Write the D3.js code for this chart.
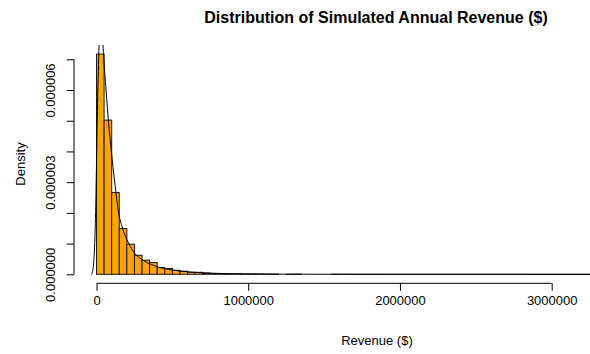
<!DOCTYPE html>
<html lang="en">
<head>
  <meta charset="UTF-8">
  <title>Distribution of Simulated Annual Revenue</title>
  <script src="https://d3js.org/d3.v7.min.js"></script>
  <style>
    body { margin: 0; padding: 0; background: #fff; }
    svg { display: block; font-family: "Liberation Sans", Arial, sans-serif; }
  </style>
</head>
<body>
<svg id="chart" width="590" height="354"></svg>
<script>
// histogram bins (left edge, $) and their density
const binWidth = 50000;
const binLefts = [0, 50000, 100000, 150000, 200000, 250000, 300000, 350000,
  400000, 450000, 500000, 550000, 600000, 650000, 700000, 750000, 800000,
  850000, 900000, 950000, 1000000, 1050000, 1100000, 1150000, 1200000,
  1250000, 1300000, 1350000, 1400000, 1450000, 1500000, 1550000];
const binDensity = [7.17e-6, 5.02e-6, 2.66e-6, 1.49e-6, 0.98e-6, 0.62e-6,
  0.46e-6, 0.38e-6, 0.22e-6, 0.19e-6, 0.13e-6, 0.10e-6, 0.065e-6, 0.065e-6,
  0.035e-6, 0.02e-6, 0.02e-6, 0.015e-6, 0.012e-6, 0.01e-6, 0.008e-6,
  0.008e-6, 0.006e-6, 0.005e-6, 0, 0.002e-6, 0.004e-6, 0, 0, 0, 0, 0.003e-6];
const lastBreak = 3750000;

// kernel density line
const densX = [-31600, -20000, -12000, -5000, 0, 8000, 18000, 28000, 38000,
  48000, 63000, 80000, 98000, 120000, 146000, 175000, 208000, 252000, 307000,
  405000, 500000, 600000, 700000, 800000, 1000000, 1200000, 1500000, 2000000,
  3000000, 3900000];
const densY = [0, 0.3e-6, 1.0e-6, 2.2e-6, 3.6e-6, 5.8e-6, 7.6e-6, 8.3e-6,
  7.9e-6, 7.0e-6, 6.0e-6, 4.9e-6, 4.0e-6, 3.0e-6, 2.0e-6, 1.45e-6, 1.05e-6,
  0.68e-6, 0.46e-6, 0.24e-6, 0.14e-6, 0.08e-6, 0.05e-6, 0.03e-6, 0.012e-6,
  0.005e-6, 0.002e-6, 0.0005e-6, 0, 0];

const xTicks = [0, 1000000, 2000000, 3000000];
const yTicks = [0, 1e-6, 2e-6, 3e-6, 4e-6, 5e-6, 6e-6, 7e-6];
const yLabelled = [0, 3e-6, 6e-6];

const svg = d3.select("#chart");
const plot = {left: 74, right: 678, top: 45, bottom: 283.3};

const x = d3.scaleLinear().domain([0, 3000000]).range([96.5, 551.7]);
const y = d3.scaleLinear().domain([0, 7e-6]).range([274.3, 59.3]);

svg.append("defs").append("clipPath").attr("id", "clip")
  .append("rect")
  .attr("x", plot.left).attr("y", plot.top)
  .attr("width", plot.right - plot.left).attr("height", plot.bottom - plot.top);

const g = svg.append("g").attr("clip-path", "url(#clip)");

// bars
g.selectAll(".bar")
  .data(binLefts.map((b, i) => ({x0: b, d: binDensity[i]})))
  .enter().append("rect")
  .attr("class", "bar")
  .attr("x", d => x(d.x0))
  .attr("width", d => x(d.x0 + binWidth) - x(d.x0))
  .attr("y", d => y(d.d))
  .attr("height", d => y(0) - y(d.d))
  .attr("fill", "#FFA500")
  .attr("stroke", "#1a1a1a")
  .attr("stroke-width", 1);

// empty bins beyond the last visible one
g.append("line")
  .attr("x1", x(binLefts[binLefts.length - 1] + binWidth)).attr("x2", x(lastBreak))
  .attr("y1", y(0)).attr("y2", y(0))
  .attr("stroke", "#1a1a1a");

// density curve
const line = d3.line().x(d => x(d[0])).y(d => y(d[1])).curve(d3.curveMonotoneX);
g.append("path")
  .datum(densX.map((v, i) => [v, densY[i]]))
  .attr("d", line)
  .attr("fill", "none")
  .attr("stroke", "#000")
  .attr("stroke-width", 1);

// x axis
const xAxis = svg.append("g")
  .attr("transform", `translate(0,${plot.bottom})`)
  .call(d3.axisBottom(x).tickValues(xTicks).tickFormat(d3.format("d")).tickSize(7.5).tickPadding(5).tickSizeOuter(0));
xAxis.select(".domain").remove();
xAxis.append("line")
  .attr("x1", x(0)).attr("x2", x(3000000))
  .attr("stroke", "#000");
xAxis.selectAll("text").attr("font-size", "13px").attr("fill", "#000")
  .attr("font-family", "Liberation Sans, Arial, sans-serif");
xAxis.selectAll(".tick line").attr("stroke", "#000");

// y axis
const yAxis = svg.append("g")
  .attr("transform", `translate(${plot.left},0)`)
  .call(d3.axisLeft(y).tickValues(yTicks)
    .tickFormat(d => yLabelled.includes(d) ? d3.format(".6f")(d) : "")
    .tickSize(7.3).tickSizeOuter(0));
yAxis.select(".domain").remove();
yAxis.append("line")
  .attr("y1", y(0)).attr("y2", y(7e-6))
  .attr("stroke", "#000");
yAxis.selectAll(".tick line").attr("stroke", "#000");
yAxis.selectAll("text")
  .attr("font-size", "13px").attr("fill", "#000")
  .attr("font-family", "Liberation Sans, Arial, sans-serif")
  .attr("transform", "rotate(-90)")
  .attr("x", 0).attr("y", -19).attr("dy", null)
  .attr("text-anchor", "middle");

// titles
svg.append("text")
  .attr("x", 376).attr("y", 22.5)
  .attr("text-anchor", "middle")
  .attr("font-size", "16px").attr("font-weight", "bold")
  .text("Distribution of Simulated Annual Revenue ($)");

svg.append("text")
  .attr("x", 377).attr("y", 344.5)
  .attr("text-anchor", "middle")
  .attr("font-size", "13px")
  .text("Revenue ($)");

svg.append("text")
  .attr("transform", "translate(25,164) rotate(-90)")
  .attr("text-anchor", "middle")
  .attr("font-size", "13px")
  .text("Density");
</script>
</body>
</html>
